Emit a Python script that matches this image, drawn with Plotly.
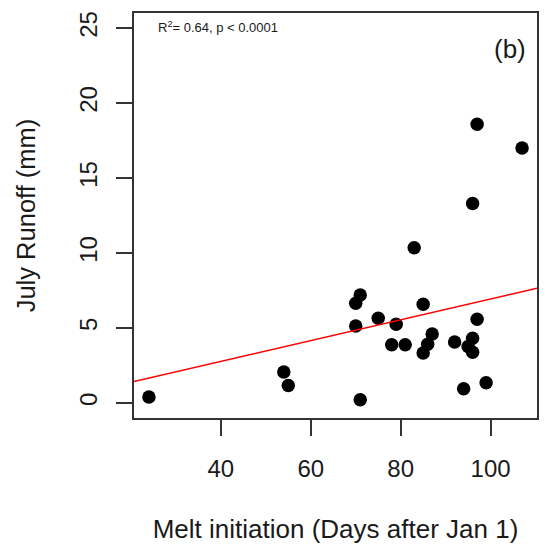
import plotly.graph_objects as go
import numpy as np

# Data
melt_day = [24, 54, 55, 71, 70, 70, 71, 75, 78, 79, 81, 83, 85, 85, 86, 87,
            92, 94, 95, 96, 96, 97, 99, 96, 97, 107]
july_runoff = [0.4, 2.06, 1.17, 0.22, 5.14, 6.65, 7.2, 5.65, 3.88, 5.25, 3.88,
               10.35, 6.59, 3.33, 3.92, 4.6, 4.06, 0.95, 3.77, 4.32, 3.39, 5.59,
               1.35, 13.3, 18.58, 17.0]
fit_intercept = 0.007
fit_slope = 0.0693
x_ticks = [40, 60, 80, 100]
y_ticks = [0, 5, 10, 15, 20, 25]
x_range = [20.68, 110.32]
y_range = [-1, 26]

fx = np.array(x_range)
fy = fit_intercept + fit_slope * fx

FONT = "Liberation Sans, Arial, sans-serif"
TXT = "#1a1a1a"

fig = go.Figure()
fig.add_trace(go.Scatter(x=melt_day, y=july_runoff, mode="markers",
                         marker=dict(color="black", size=13.5, line=dict(width=0)),
                         showlegend=False, cliponaxis=False))
fig.add_trace(go.Scatter(x=fx, y=fy, mode="lines",
                         line=dict(color="red", width=1.5), showlegend=False))

fig.update_layout(
    width=547, height=548,
    margin=dict(l=134, r=8, t=13, b=130),
    paper_bgcolor="white", plot_bgcolor="white",
    font=dict(family=FONT, color=TXT),
    xaxis=dict(range=x_range, tickvals=x_ticks, ticks="outside", ticklen=16,
               tickwidth=1.5, tickcolor="#333333",
               showline=True, linecolor="#333333", linewidth=1.5, mirror=True,
               showgrid=False, zeroline=False,
               tickfont=dict(size=24, family=FONT, color=TXT),
               ticklabelstandoff=12,
               title=dict(text="Melt initiation (Days after Jan 1)",
                          font=dict(size=26, family=FONT, color=TXT),
                          standoff=39)),
    yaxis=dict(range=y_range, tickvals=y_ticks, ticks="outside", ticklen=16,
               tickwidth=1.5, tickcolor="#333333", tickangle=-90,
               showline=True, linecolor="#333333", linewidth=1.5, mirror=True,
               showgrid=False, zeroline=False,
               tickfont=dict(size=24, family=FONT, color=TXT),
               ticklabelstandoff=10,
               title=dict(text="July Runoff (mm)",
                          font=dict(size=25.5, family=FONT, color=TXT),
                          standoff=32)),
    annotations=[
        dict(text="R<sup>2</sup>= 0.64, p < 0.0001", xref="paper", yref="paper",
             x=0.055, y=0.99, xanchor="left", yanchor="top", showarrow=False,
             font=dict(size=13, family=FONT, color=TXT)),
        dict(text="(b)", xref="paper", yref="paper", x=0.978, y=0.91,
             xanchor="right", yanchor="middle", showarrow=False,
             font=dict(size=26, family=FONT, color=TXT)),
    ],
)

fig.write_html("out.html")
